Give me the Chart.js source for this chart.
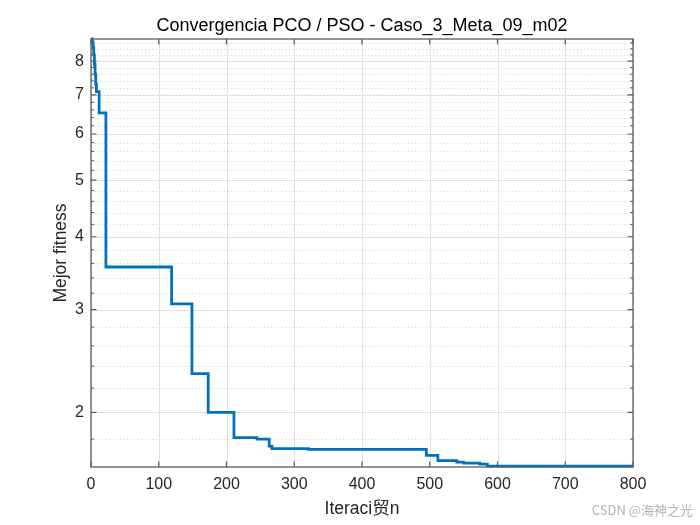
<!DOCTYPE html>
<html>
<head>
<meta charset="utf-8">
<script src="https://cdn.jsdelivr.net/npm/chart.js@4/dist/chart.umd.min.js"></script>
<style>
  html, body { margin: 0; padding: 0; background: #ffffff; }
  #wrap { width: 700px; height: 525px; }
</style>
</head>
<body>
<div id="wrap"><canvas id="c" width="700" height="525"></canvas></div>
<script>
// ---- data ----
const iterations = [0, 2, 3, 4, 5, 6, 7, 8, 12, 22, 119, 149, 173, 211, 245, 263, 267, 321, 495, 512, 540, 550, 574, 585, 800];
const fitness    = [8.73, 8.62, 8.45, 8.2, 7.9, 7.6, 7.3, 7.09, 6.52, 3.55, 3.07, 2.33, 2.00, 1.81, 1.80, 1.75, 1.733, 1.728, 1.688, 1.653, 1.643, 1.637, 1.630, 1.617, 1.617];

const xTicks = [0, 100, 200, 300, 400, 500, 600, 700, 800];
const yTicks = [2, 3, 4, 5, 6, 7, 8];
const yMinorTicks = [1.8, 2.2, 2.4, 2.6, 2.8, 3.2, 3.4, 3.6, 3.8, 4.2, 4.4, 4.6, 4.8, 5.2, 5.4, 5.6, 5.8,
                     6.2, 6.4, 6.6, 6.8, 7.2, 7.4, 7.6, 7.8, 8.2, 8.4, 8.6];

const titleText = 'Convergencia PCO / PSO - Caso_3_Meta_09_m02';
const xLabel = 'Iteraci贸n';
const yLabel = 'Mejor fitness';
const watermark = 'CSDN @海神之光';

const FONT = "'Liberation Sans', Arial, Helvetica, sans-serif";
const AXIS_COLOR = '#5c5c5c';

const matlabAxes = {
  id: 'matlabAxes',
  beforeDatasetsDraw(chart) {
    const { ctx, chartArea: a, scales: { x, y } } = chart;
    ctx.save();
    ctx.lineWidth = 1;
    // minor dotted grid
    ctx.strokeStyle = '#cdcdcd';
    ctx.setLineDash([1, 2.6]);
    yMinorTicks.forEach(v => {
      const py = Math.round(y.getPixelForValue(v)) + 0.5;
      if (py <= a.top || py >= a.bottom) return;
      ctx.beginPath(); ctx.moveTo(a.left, py); ctx.lineTo(a.right, py); ctx.stroke();
    });
    // major solid grid
    ctx.setLineDash([]);
    ctx.strokeStyle = '#e0e0e0';
    yTicks.forEach(v => {
      const py = Math.round(y.getPixelForValue(v)) + 0.5;
      ctx.beginPath(); ctx.moveTo(a.left, py); ctx.lineTo(a.right, py); ctx.stroke();
    });
    xTicks.forEach(v => {
      const px = Math.round(x.getPixelForValue(v)) + 0.5;
      ctx.beginPath(); ctx.moveTo(px, a.top); ctx.lineTo(px, a.bottom); ctx.stroke();
    });
    ctx.restore();
  },
  afterDatasetsDraw(chart) {
    const { ctx, chartArea: a, scales: { x, y } } = chart;
    ctx.save();
    ctx.strokeStyle = AXIS_COLOR;
    ctx.lineWidth = 1.3;
    ctx.strokeRect(a.left, a.top, a.right - a.left, a.bottom - a.top);
    ctx.lineWidth = 1.2;
    const major = 5.5, minor = 3;
    xTicks.forEach(v => {
      const px = x.getPixelForValue(v);
      ctx.beginPath();
      ctx.moveTo(px, a.bottom); ctx.lineTo(px, a.bottom - major);
      ctx.moveTo(px, a.top); ctx.lineTo(px, a.top + major);
      ctx.stroke();
    });
    yTicks.forEach(v => {
      const py = y.getPixelForValue(v);
      ctx.beginPath();
      ctx.moveTo(a.left, py); ctx.lineTo(a.left + major, py);
      ctx.moveTo(a.right, py); ctx.lineTo(a.right - major, py);
      ctx.stroke();
    });
    ctx.lineWidth = 1;
    yMinorTicks.forEach(v => {
      const py = y.getPixelForValue(v);
      if (py <= a.top || py >= a.bottom) return;
      ctx.beginPath();
      ctx.moveTo(a.left, py); ctx.lineTo(a.left + minor, py);
      ctx.moveTo(a.right, py); ctx.lineTo(a.right - minor, py);
      ctx.stroke();
    });
    ctx.restore();
  },
  afterDraw(chart) {
    const { ctx, chartArea: a } = chart;
    ctx.save();
    const cx = (a.left + a.right) / 2;
    ctx.textAlign = 'center';
    ctx.textBaseline = 'alphabetic';
    ctx.fillStyle = '#000000';
    ctx.font = '18px ' + FONT;
    ctx.fillText(titleText, cx, 30.5);
    ctx.fillStyle = '#262626';
    ctx.font = "17.5px 'Liberation Sans', Arial, 'Noto Sans CJK SC', sans-serif";
    ctx.fillText(xLabel, cx, 514);
    ctx.save();
    ctx.translate(66, (a.top + a.bottom) / 2);
    ctx.rotate(-Math.PI / 2);
    ctx.font = '17.5px ' + FONT;
    ctx.fillText(yLabel, 0, 0);
    ctx.restore();
    ctx.fillStyle = '#b4b4b4';
    ctx.textAlign = 'right';
    ctx.font = "13px 'Noto Sans CJK SC', 'Liberation Sans', sans-serif";
    ctx.fillText(watermark, 693, 515);
    ctx.restore();
  }
};

new Chart(document.getElementById('c'), {
  type: 'line',
  data: {
    datasets: [{
      data: iterations.map((it, i) => ({ x: it, y: fitness[i] })),
      borderColor: '#0072BD',
      borderWidth: 2.8,
      pointRadius: 0,
      fill: false,
      stepped: 'before',
      clip: 6
    }]
  },
  options: {
    responsive: false,
    animation: false,
    events: [],
    layout: { padding: { left: 0, right: 67, top: 39, bottom: 0 } },
    plugins: { legend: { display: false }, tooltip: { enabled: false }, title: { display: false } },
    scales: {
      x: {
        type: 'linear',
        min: 0, max: 800,
        bounds: 'data',
        afterBuildTicks: s => { s.ticks = xTicks.map(v => ({ value: v })); },
        afterFit: s => { s.height = 58; },
        grid: { display: false, drawTicks: false },
        border: { display: false },
        ticks: {
          padding: 8,
          color: '#262626',
          font: { family: FONT, size: 16 },
          maxRotation: 0,
          autoSkip: false,
          callback: v => String(v)
        }
      },
      y: {
        type: 'logarithmic',
        min: 1.612, max: 8.73,
        bounds: 'data',
        afterBuildTicks: s => { s.ticks = yTicks.map(v => ({ value: v })); },
        afterFit: s => { s.width = 91; },
        grid: { display: false, drawTicks: false },
        border: { display: false },
        ticks: {
          padding: 7,
          color: '#262626',
          font: { family: FONT, size: 16 },
          autoSkip: false,
          callback: v => String(v)
        }
      }
    }
  },
  plugins: [matlabAxes]
});
</script>
</body>
</html>
